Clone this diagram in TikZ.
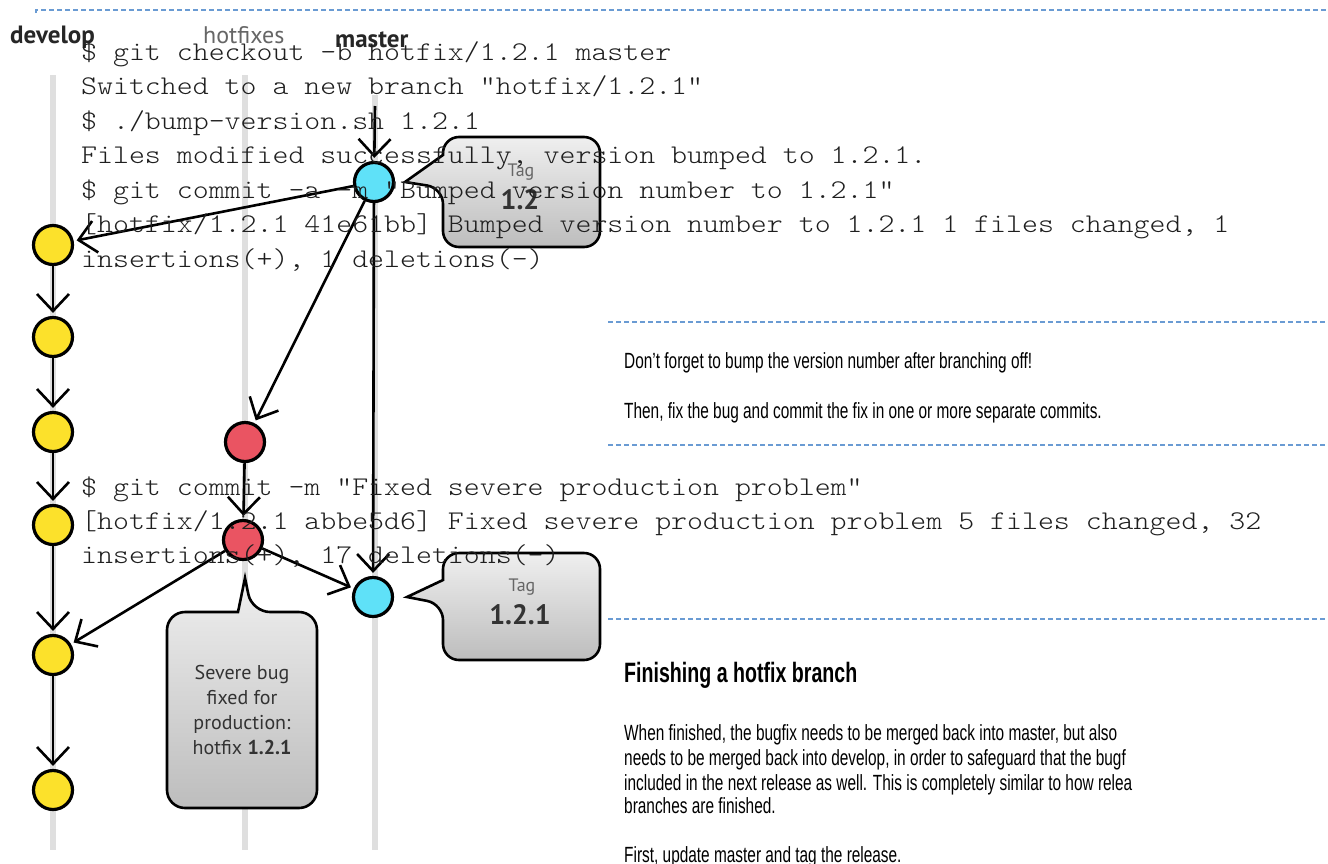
\documentclass[tikz,border=0pt]{standalone}
\usepackage{fontspec}
\setmainfont{Liberation Sans}
\newfontfamily\narrowf[FakeStretch=0.70]{Liberation Sans}
\newfontfamily\labelf{PT Sans}
\newfontfamily\monof[FakeStretch=1.125]{lmmonolt10-regular.otf}
\usetikzlibrary{arrows.meta}
\definecolor{devyellow}{HTML}{FCE12B}
\definecolor{hotred}{HTML}{EA5462}
\definecolor{mastblue}{HTML}{5FE1F8}
\definecolor{dashblue}{HTML}{6A9BD3}
\definecolor{branchgray}{HTML}{DFDFDF}
\definecolor{bubtop}{HTML}{EFEFEF}
\definecolor{bubbot}{HTML}{BDBDBD}
\begin{document}
\begin{tikzpicture}[x=1pt,y=-1pt,
  commit/.style={circle,draw=black,line width=3.2pt,minimum size=39pt,inner sep=0pt},
  dev/.style={commit,fill=devyellow},
  hot/.style={commit,fill=hotred},
  mst/.style={commit,fill=mastblue},
  flow/.style={line width=2.6pt,-{Straight Barb[length=17pt,width=32pt,line width=2.6pt]},shorten >=3pt},
  lane/.style={draw=branchgray,line width=6pt},
  sep/.style={draw=dashblue,dash pattern=on 5pt off 3pt,line width=1.3pt},
  bubble/.style={draw=black,line width=2.6pt,top color=bubtop,bottom color=bubbot},
  mono/.style={font={\monof\fontsize{27}{30}\selectfont},anchor=base west,inner sep=0pt,text=black!88},
  body/.style={font=\narrowf\fontsize{22}{25}\selectfont,anchor=base west,inner sep=0pt},
  head/.style={font=\narrowf\bfseries\fontsize{28}{30}\selectfont,anchor=base west,inner sep=0pt},
  branch/.style={font=\labelf\fontsize{24}{26}\selectfont,anchor=base west,inner sep=0pt},
  branchb/.style={font=\labelf\bfseries\fontsize{25}{26}\selectfont,anchor=base west,inner sep=0pt,text=black!85},
  tagsmall/.style={font=\labelf\fontsize{18}{20}\selectfont,text=black!60,inner sep=0pt},
  tagbig/.style={font=\labelf\bfseries\fontsize{28}{30}\selectfont,text=black!80,inner sep=0pt},
  note/.style={font=\labelf\fontsize{20}{25}\selectfont,text=black!80,align=center,inner sep=0pt},
]
\useasboundingbox (0,0) rectangle (1328,863);
\clip (0,0) rectangle (1328,863);
\fill[white] (0,0) rectangle (1328,863);

% separators
\draw[sep] (36,13) -- (36,10) -- (1328,10);
\draw[sep] (608,322) -- (1328,322);
\draw[sep] (608,445) -- (1328,445);
\draw[sep] (608,619) -- (1328,619);

% branch labels
\node[branchb] (ldev) at (10,43) {develop};
\node[branch,text=black!60] (lhot) at (203,43) {hotfixes};
\node[branchb] (lmas) at (335,47) {master};

% lanes
\draw[lane] (53,75) -- (53,850);
\draw[lane] (245,75) -- (245,850);
\draw[lane] (375,95) -- (375,850);

% bubbles
\path[bubble] (443,188) [sharp corners] -- (405,182) -- (443,155) [rounded corners=16pt] -- (443,137) -- (600,137) -- (600,247) -- (443,247) -- cycle;
\path[bubble] (443,604) [sharp corners] -- (407,597) -- (443,580) [rounded corners=16pt] -- (443,553) -- (600,553) -- (600,660) -- (443,660) -- cycle;
\path[bubble] (252,612) [sharp corners] -- (245,578) -- (238,612) [rounded corners=18pt] -- (167,612) -- (167,808) -- (317,808) -- (317,612) -- cycle;

\node[tagsmall] (tag1a) at (521,172) {Tag};
\node[tagbig] (tag1b) at (520,200) {1.2};
\node[tagsmall] (tag2a) at (522,587) {Tag};
\node[tagbig] (tag2b) at (520,615) {1.2.1};
\node[note] (bugnote) at (242,710) {Severe bug\\fixed for\\production:\\hotfix \textbf{1.2.1}};

% commits
\node[dev] (d1) at (53,245) {};
\node[dev] (d2) at (53,337) {};
\node[dev] (d3) at (53,432) {};
\node[dev] (d4) at (53,525) {};
\node[dev] (d5) at (53,655) {};
\node[dev] (d6) at (53,790) {};
\node[hot] (h1) at (245,442) {};
\node[hot] (h2) at (243,540) {};
\node[mst] (m1) at (374,182) {};
\node[mst] (m2) at (373,597) {};
\coordinate (mtop) at (375,106);

% connectors
\draw[flow] (mtop) -- (m1);
\draw[flow] (m1) -- (d1);
\draw[flow] (m1) -- (h1);
\draw[flow] (m1) -- (m2);
\draw[flow] (d1) -- (d2);
\draw[flow] (d2) -- (d3);
\draw[flow] (d3) -- (d4);
\draw[flow] (d4) -- (d5);
\draw[flow] (d5) -- (d6);
\draw[flow] (h1) -- (h2);
\draw[flow] (h2) -- (d5);
\draw[flow] (h2) -- (m2);

% console text
\node[mono] (c1) at (81,60) {\$ git checkout -b hotfix/1.2.1 master};
\node[mono] (c2) at (81,94) {Switched to a new branch "hotfix/1.2.1"};
\node[mono] (c3) at (81,129) {\$ ./bump-version.sh 1.2.1};
\node[mono] (c4) at (81,163) {Files modified successfully, version bumped to 1.2.1.};
\node[mono] (c5) at (81,198) {\$ git commit -a -m "Bumped version number to 1.2.1"};
\node[mono] (c6) at (81,232) {[hotfix/1.2.1 41e61bb] Bumped version number to 1.2.1 1 files changed, 1};
\node[mono] (c7) at (81,267) {insertions(+), 1 deletions(-)};
\node[mono] (c8) at (81,495) {\$ git commit -m "Fixed severe production problem"};
\node[mono] (c9) at (81,529) {[hotfix/1.2.1 abbe5d6] Fixed severe production problem 5 files changed, 32};
\node[mono] (c10) at (81,563) {insertions(+), 17 deletions(-)};

% right text
\node[body] (r1) at (624,368) {Don’t forget to bump the version number after branching off!};
\node[body] (r2) at (624,418) {Then, fix the bug and commit the fix in one or more separate commits.};
\node[head] (r3) at (624,682) {Finishing a hotfix branch};
\node[body] (r4) at (624,740) {When finished, the bugfix needs to be merged back into master, but also};
\node[body] (r5) at (624,765) {needs to be merged back into develop, in order to safeguard that the bugf};
\node[body] (r6) at (624,790) {included in the next release as well. This is completely similar to how relea};
\node[body] (r7) at (624,813) {branches are finished.};
\node[body] (r8) at (624,862) {First, update master and tag the release.};
\end{tikzpicture}
\end{document}
